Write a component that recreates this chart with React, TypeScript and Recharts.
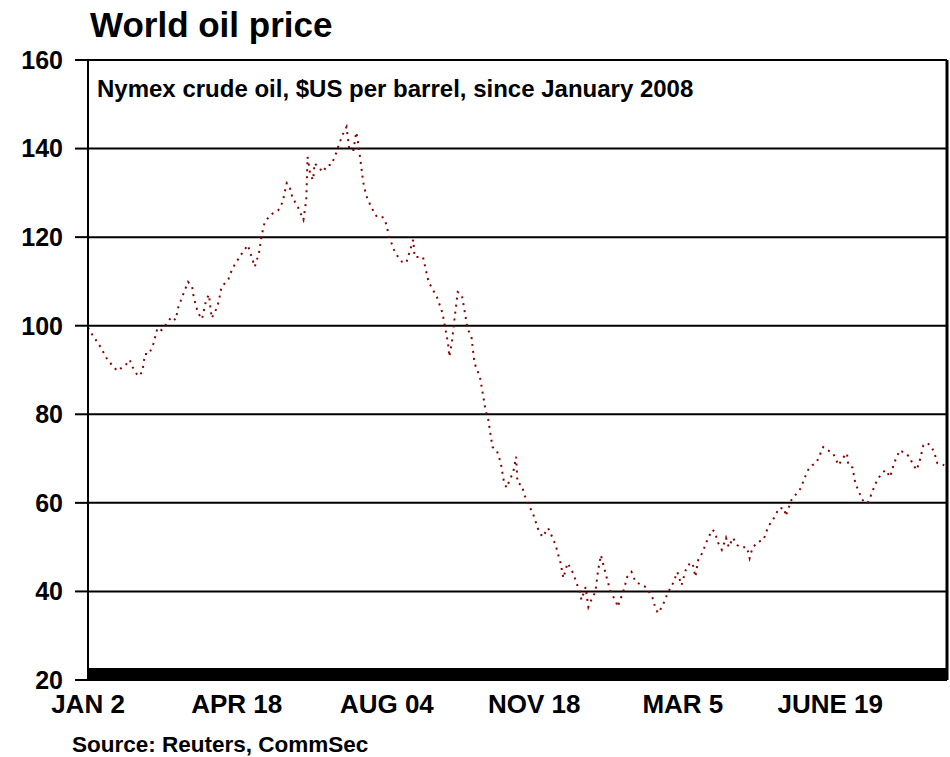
import React from "react";
import {
  LineChart,
  Line,
  XAxis,
  YAxis,
  CartesianGrid,
  ReferenceArea,
  ReferenceLine,
} from "recharts";

// Calendar days since 2 January 2008
const dayIndex: number[] = [
  0, 3, 9, 14, 21, 27, 30, 32, 36, 39, 41, 44, 47, 50, 53, 57, 60, 63, 65, 68,
  72, 75, 76, 79, 82, 85, 87, 89, 93, 95, 96, 101, 104, 110, 115, 120, 123, 125,
  127, 131, 137, 140, 143, 145, 147, 151, 155, 157, 158, 160, 162, 163, 169, 172,
  175, 178, 180, 183, 186, 188, 191, 193, 194, 196, 198, 200, 204, 208, 212, 214,
  217, 221, 226, 229, 234, 235, 237, 241, 245, 251, 255, 259, 260, 262, 264, 266,
  269, 273, 276, 278, 282, 286, 288, 291, 294, 297, 299, 301, 306, 308, 309, 312,
  314, 317, 320, 324, 327, 331, 335, 337, 340, 342, 345, 348, 350, 354, 355, 358,
  360, 362, 365, 367, 369, 373, 376, 380, 381, 385, 388, 391, 394, 399, 402, 406,
  408, 410, 413, 415, 417, 421, 424, 427, 430, 433, 435, 437, 439, 442, 445, 449,
  451, 453, 456, 459, 461, 464, 467, 469, 474, 476, 478, 482, 486, 488, 491, 494,
  497, 501, 502, 506, 509, 513, 515, 518, 521, 524, 527, 529, 532, 536, 540, 543,
  546, 547, 550, 552, 555, 558, 561, 564, 566, 568, 571, 574, 577, 580, 584, 588,
  591, 593, 596, 598, 601, 604, 607, 609, 611, 616,
];

// Nymex crude oil, $US per barrel
const crudePrice: number[] = [
  99.6, 98, 95.2, 92.3, 89.8, 91.1, 92.3, 90.7, 88.6, 89.5, 93.6, 93.6, 95.9, 99.5,
  99, 100.6, 102, 101.3, 104.2, 106.7, 109.9, 108.7, 106.5, 103, 101.5, 105.8, 107,
  101.7, 104.2, 107, 108.7, 110.5, 113, 116, 118.2, 113.3, 116.4, 120.5, 123.2, 125,
  126.1, 127.9, 132.2, 131.5, 129, 126.8, 123.9, 128.4, 138.1, 134, 132.9, 136.7,
  134.7, 136.3, 136.3, 138.5, 140.4, 143, 144.9, 139.7, 139.7, 143.7, 142, 137.4,
  132.4, 129.5, 126.6, 124.5, 124.5, 123.5, 119.8, 116.4, 114.4, 114.2, 119.4, 115.5,
  115.5, 115.5, 109.9, 106.5, 102.9, 96.1, 93, 96.8, 102.4, 107.6, 106.9, 99.5, 97.2,
  91.6, 88.4, 81, 78.7, 72.6, 71.9, 69, 65.2, 63.4, 67, 70.4, 64.5, 64, 61.8, 59.5,
  57.7, 53.9, 52.3, 54.3, 51.6, 49.8, 46.4, 43, 46.4, 44.8, 43.3, 39.6, 38.1, 41,
  36.5, 38, 39.9, 44.8, 48.2, 43.3, 39.9, 37.6, 36.5, 39.9, 43.3, 44.4, 42.1, 41.4,
  40.8, 38.7, 36.5, 35.1, 36.5, 38, 39.6, 41.9, 44.4, 41.4, 44.8, 46.4, 46.4, 43.3,
  47.1, 48.7, 51.2, 53.9, 53.5, 51.2, 49.4, 52.1, 50, 52.1, 50.5, 50, 50, 47.5, 49.8,
  51.2, 51.6, 53.5, 55.5, 56.8, 58.8, 58.8, 57, 60.6, 61.8, 63.4, 65.2, 67.4, 68.5,
  69, 71.2, 72.6, 71.9, 71.2, 68.5, 70.1, 71.2, 68.5, 68, 64.5, 62.2, 60.2, 60, 62.2,
  64, 65.2, 66.7, 67.4, 65.8, 69, 71.9, 71.2, 70.4, 69, 67.4, 69, 73, 73.5, 72.6,
  71.2, 69, 68.5,
];

const xTickDays: number[] = [0, 107, 215, 321, 428, 534];
const xTickLabels: string[] = ["JAN 2", "APR 18", "AUG 04", "NOV 18", "MAR 5", "JUNE 19"];
const yTicks: number[] = [20, 40, 60, 80, 100, 120, 140, 160];
const lastDay = 618;

const titleText = "World oil price";
const subtitleText = "Nymex crude oil, $US per barrel, since January 2008";
const sourceText = "Source: Reuters, CommSec";

const chartData = dayIndex.map((d, i) => ({ day: d, price: crudePrice[i] }));

const FONT = "'Liberation Sans', Arial, Helvetica, sans-serif";

export default function App() {
  return (
    <div
      style={{
        position: "absolute",
        left: 0,
        top: 0,
        width: 950,
        height: 757,
        background: "#fff",
        fontFamily: FONT,
      }}
    >
      <LineChart
        width={950}
        height={757}
        data={chartData}
        margin={{ top: 60, right: 3, bottom: 37, left: 0 }}
      >
        <CartesianGrid vertical={false} stroke="#000" strokeWidth={2} strokeOpacity={1} />
        <XAxis
          dataKey="day"
          type="number"
          domain={[0, lastDay]}
          ticks={xTickDays}
          tickFormatter={(v: number) => xTickLabels[xTickDays.indexOf(v)] ?? ""}
          axisLine={false}
          tickLine={false}
          tickSize={0}
          tickMargin={15}
          height={40}
          interval={0}
          tick={{ fill: "#000", fontSize: 26, fontWeight: 700, fontFamily: FONT }}
        />
        <YAxis
          type="number"
          domain={[20, 160]}
          ticks={yTicks}
          allowDataOverflow
          width={88}
          interval={0}
          axisLine={{ stroke: "#000", strokeWidth: 2 }}
          tickLine={{ stroke: "#000", strokeWidth: 2 }}
          tickSize={13}
          tickMargin={12}
          tick={{ fill: "#000", fontSize: 25, fontWeight: 700, fontFamily: FONT }}
        />
        <ReferenceArea y1={20} y2={22.7} fill="#000" fillOpacity={1} stroke="none" ifOverflow="visible" />
        <ReferenceLine x={lastDay} stroke="#000" strokeWidth={3} />
        <Line
          type="linear"
          dataKey="price"
          stroke="#8b0000"
          strokeWidth={2}
          strokeDasharray="2 5"
          dot={false}
          activeDot={false}
          isAnimationActive={false}
        />
      </LineChart>
      <svg
        width={950}
        height={757}
        style={{ position: "absolute", left: 0, top: 0, pointerEvents: "none" }}
      >
        <text x={90} y={37} fontFamily={FONT} fontWeight={700} fontSize={35} fill="#000">
          {titleText}
        </text>
        <text x={97} y={97} fontFamily={FONT} fontWeight={700} fontSize={24} fill="#000">
          {subtitleText}
        </text>
        <text x={72} y={752} fontFamily={FONT} fontWeight={700} fontSize={22.5} fill="#000">
          {sourceText}
        </text>
      </svg>
    </div>
  );
}
